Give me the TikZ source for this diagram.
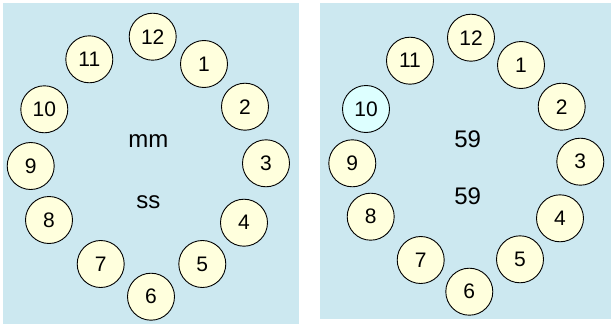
\documentclass[tikz,border=0pt]{standalone}
\usepackage{fontspec}
\setmainfont{Liberation Sans}
\definecolor{panelbg}{RGB}{204,232,240}
\definecolor{numfill}{RGB}{255,255,221}
\definecolor{hifill}{RGB}{221,255,255}
\begin{document}
\begin{tikzpicture}[x=1pt,y=-1pt,
  panel/.style={fill=panelbg,draw=none},
  num/.style={circle,draw=black,line width=0.9pt,fill=numfill,minimum size=47pt,inner sep=0pt,font=\fontsize{21}{21}\selectfont},
  hinum/.style={num,fill=hifill},
  center/.style={inner sep=0pt,font=\fontsize{24}{24}\selectfont}]
\useasboundingbox (0,0) rectangle (611,324);
\fill[panelbg] (3,3) rectangle (299,324);
\fill[panelbg] (320,3) rectangle (611,319);
% left clock
\node[num] (l12) at (152.7,36.7) {12};
\node[num] (l1) at (204,64) {1};
\node[num] (l2) at (245,106.7) {2};
\node[num] (l3) at (266,163.3) {3};
\node[num] (l4) at (244,222.7) {4};
\node[num] (l5) at (202.3,264) {5};
\node[num] (l6) at (151,296.7) {6};
\node[num] (l7) at (100.7,264) {7};
\node[num] (l8) at (49,220) {8};
\node[num] (l9) at (30.7,166) {9};
\node[num] (l10) at (44.3,109.3) {10};
\node[num] (l11) at (89.3,59.3) {11};
\node[center] (lmm) at (148.3,140.7) {mm};
\node[center] (lss) at (148.3,201.7) {ss};
% right clock
\node[num] (r12) at (471,37.7) {12};
\node[num] (r1) at (521,65) {1};
\node[num] (r2) at (561.7,106.7) {2};
\node[num] (r3) at (580.3,161.7) {3};
\node[num] (r4) at (560,218.3) {4};
\node[num] (r5) at (520,259.3) {5};
\node[num] (r6) at (469.3,291.7) {6};
\node[num] (r7) at (420.7,260) {7};
\node[num] (r8) at (370.7,216.7) {8};
\node[num] (r9) at (352.3,163.3) {9};
\node[hinum] (r10) at (366,109) {10};
\node[num] (r11) at (410,60.7) {11};
\node[center] (rmin) at (467.7,139.3) {59};
\node[center] (rsec) at (467.7,196.7) {59};
\end{tikzpicture}
\end{document}
